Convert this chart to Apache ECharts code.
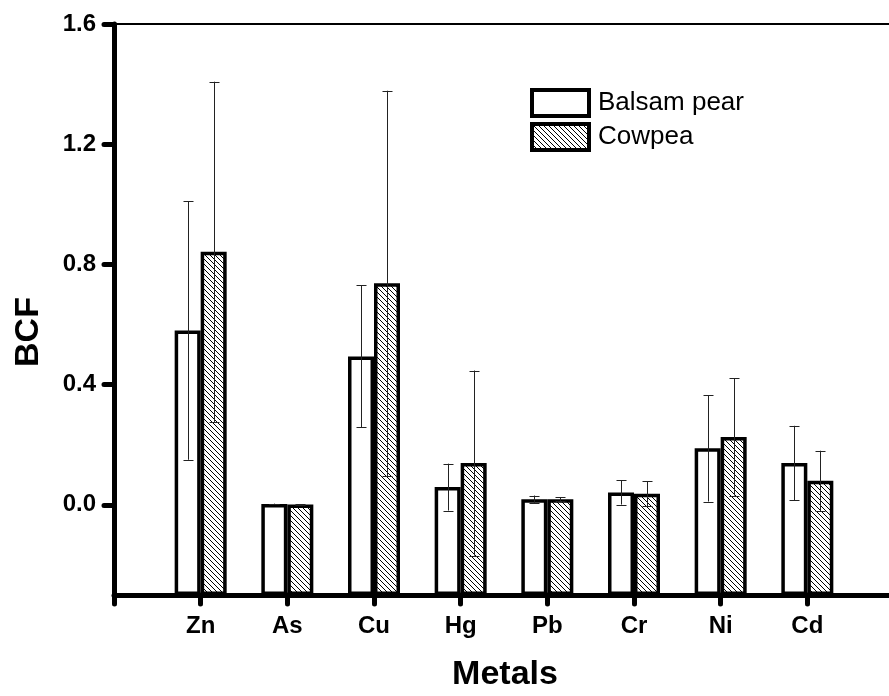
<!DOCTYPE html>
<html>
<head>
<meta charset="utf-8">
<script src="https://cdn.jsdelivr.net/npm/echarts@6/dist/echarts.min.js"></script>
<style>
  html, body { margin: 0; padding: 0; background: #fff; overflow: hidden; width: 889px; height: 696px; }
  #chart { width: 900px; height: 696px; }
</style>
</head>
<body>
<div id="chart"></div>
<script>
// ---- data ----
const metals = ['Zn', 'As', 'Cu', 'Hg', 'Pb', 'Cr', 'Ni', 'Cd'];
const balsamMean = [0.580, 0.003, 0.494, 0.059, 0.019, 0.041, 0.188, 0.139];
const balsamSD   = [0.430, 0.001, 0.236, 0.078, 0.012, 0.040, 0.177, 0.124];
const cowpeaMean = [0.842, 0.001, 0.737, 0.139, 0.019, 0.037, 0.226, 0.080];
const cowpeaSD   = [0.566, 0.001, 0.641, 0.308, 0.007, 0.041, 0.195, 0.100];
const yTicks = [0.0, 0.4, 0.8, 1.2, 1.6];
const seriesNames = ['Balsam pear', 'Cowpea'];

// hatch pattern
const tile = document.createElement('canvas');
tile.width = 5; tile.height = 5;
const tctx = tile.getContext('2d');
tctx.fillStyle = '#fff';
tctx.fillRect(0, 0, 5, 5);
tctx.fillStyle = '#000';
for (let i = 0; i < 5; i++) tctx.fillRect(i, i, 1, 1);
const hatch = { image: tile, repeat: 'repeat' };

const axisCats = [''].concat(metals, ['']);
const FONT = "'Liberation Sans', Arial, Helvetica, sans-serif";

function barData(arr) { return arr.map((v, i) => [i + 1, v]); }
function errData(m, s) { return m.map((v, i) => [i + 1, v - s[i], v + s[i]]); }

function errRender(sign) {
  return function (params, api) {
    const x = api.value(0);
    const lo = api.coord([x, api.value(1)]);
    const hi = api.coord([x, api.value(2)]);
    const off = api.size([1, 0])[0] * 0.15 * sign;
    const cx = Math.round(lo[0] + off) + 0.5;
    const cap = 5;
    const style = { stroke: '#222', lineWidth: 1, fill: null };
    return {
      type: 'group',
      children: [
        { type: 'line', shape: { x1: cx, y1: hi[1], x2: cx, y2: lo[1] }, style },
        { type: 'line', shape: { x1: cx - cap, y1: Math.round(hi[1]) + 0.5, x2: cx + cap, y2: Math.round(hi[1]) + 0.5 }, style },
        { type: 'line', shape: { x1: cx - cap, y1: Math.round(lo[1]) + 0.5, x2: cx + cap, y2: Math.round(lo[1]) + 0.5 }, style }
      ]
    };
  };
}

const chart = echarts.init(document.getElementById('chart'), null, { renderer: 'canvas' });
chart.setOption({
  animation: false,
  backgroundColor: '#fff',
  textStyle: { fontFamily: FONT },
  grid: {
    left: 114, top: 24, width: 780, height: 571,
    show: true, borderColor: '#000', borderWidth: 2, backgroundColor: 'transparent'
  },
  legend: {
    orient: 'vertical',
    left: 530, top: 88, padding: 0,
    itemWidth: 57, itemHeight: 26, itemGap: 4,
    data: seriesNames,
    icon: 'rect',
    itemStyle: { borderColor: '#000', borderWidth: 4 },
    textStyle: { fontSize: 26, color: '#000', fontFamily: FONT, padding: [0, 0, 0, 4], lineHeight: 30 }
  },
  xAxis: {
    type: 'category',
    data: axisCats,
    boundaryGap: false,
    axisLine: { onZero: false, lineStyle: { color: '#000', width: 5 } },
    axisTick: { show: true, length: 9, lineStyle: { color: '#000', width: 5, cap: 'round' } },
    axisLabel: { color: '#000', fontSize: 24, fontWeight: 'bold', fontFamily: FONT, margin: 19, interval: 0 },
    splitLine: { show: false }
  },
  yAxis: {
    type: 'value',
    min: -0.3, max: 1.6,
    startValue: -0.3,
    axisLine: { show: true, lineStyle: { color: '#000', width: 5 } },
    axisTick: { show: true, length: 10, customValues: yTicks, lineStyle: { color: '#000', width: 5, cap: 'round' } },
    axisLabel: {
      color: '#000', fontSize: 24, fontWeight: 'bold', fontFamily: FONT, margin: 18,
      customValues: yTicks,
      formatter: v => v.toFixed(1)
    },
    splitLine: { show: false }
  },
  series: [
    {
      name: seriesNames[0], type: 'bar', barWidth: '30%', barGap: '0%',
      data: barData(balsamMean),
      itemStyle: { color: '#fff', borderColor: '#000', borderWidth: 3.5 },
      z: 2
    },
    {
      name: seriesNames[1], type: 'bar', barWidth: '30%', barGap: '0%',
      data: barData(cowpeaMean),
      itemStyle: { color: hatch, borderColor: '#000', borderWidth: 3.5 },
      z: 2
    },
    {
      type: 'custom', name: 'err1', renderItem: errRender(-1),
      data: errData(balsamMean, balsamSD), encode: { x: 0, y: [1, 2] }, z: 5, silent: true
    },
    {
      type: 'custom', name: 'err2', renderItem: errRender(1),
      data: errData(cowpeaMean, cowpeaSD), encode: { x: 0, y: [1, 2] }, z: 5, silent: true
    }
  ],
  graphic: [
    {
      type: 'text', x: 29, y: 332, rotation: Math.PI / 2,
      style: { text: 'BCF', fontSize: 34, fontWeight: 'bold', fontFamily: FONT, fill: '#000', align: 'center', verticalAlign: 'middle' }
    },
    {
      type: 'text', x: 505, y: 675,
      style: { text: 'Metals', fontSize: 34, fontWeight: 'bold', fontFamily: FONT, fill: '#000', align: 'center', verticalAlign: 'middle' }
    }
  ]
});
</script>
</body>
</html>
